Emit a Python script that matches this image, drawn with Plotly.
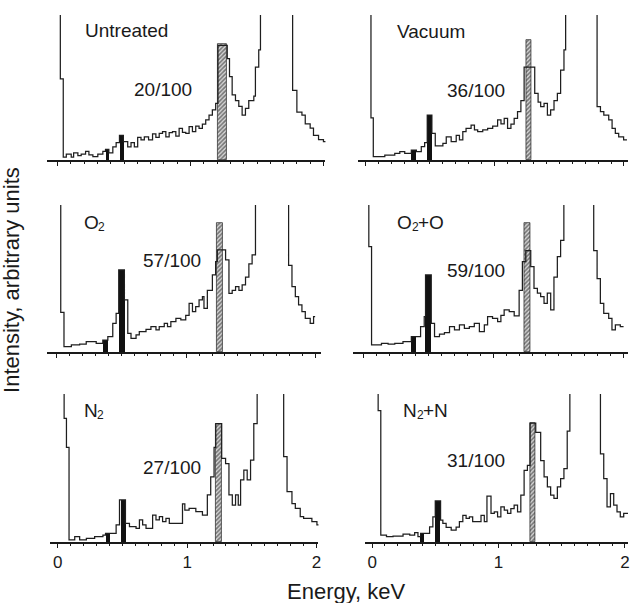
import plotly.graph_objects as go

FIG_W, FIG_H = 631, 603
FONT = "Liberation Sans, Arial, Helvetica, sans-serif"
INK = "#1a1a1a"

# EDX spectra as step functions: (left edge in keV, intensity in % of panel full scale).
# Values above 100 run off the top of the panel.
untreated = [
    (0.0, 130), (0.020, 56), (0.042, 2), (0.065, 4), (0.102, 2), (0.120, 5), (0.152, 3),
    (0.177, 4), (0.210, 6), (0.235, 3.5), (0.265, 2.3), (0.302, 4), (0.340, 6), (0.360, 7.4),
    (0.385, 5), (0.415, 9), (0.440, 12), (0.465, 17), (0.494, 12.6), (0.527, 9), (0.552, 12),
    (0.577, 9), (0.602, 15.6), (0.627, 13.8), (0.652, 16), (0.684, 13.8), (0.714, 18),
    (0.739, 15.6), (0.764, 18.4), (0.789, 19.5), (0.814, 16), (0.839, 18.9), (0.864, 19.5),
    (0.889, 16.5), (0.914, 21.8), (0.939, 19), (0.964, 18.4), (0.989, 23), (1.014, 19.5),
    (1.039, 23.4), (1.064, 21.8), (1.089, 24.8), (1.114, 27.6), (1.139, 31), (1.164, 34.5),
    (1.189, 39), (1.206, 79), (1.276, 70), (1.293, 57.5), (1.313, 45), (1.338, 41),
    (1.363, 37), (1.388, 31), (1.413, 35.6), (1.438, 41), (1.476, 44), (1.488, 64),
    (1.513, 76), (1.526, 130), (1.768, 48), (1.800, 33), (1.838, 31), (1.863, 25),
    (1.900, 22), (1.925, 17), (1.963, 14), (2.000, 12.6), (2.020, 12.6),
]
vacuum = [
    (0.0, 130), (0.044, 29), (0.062, 2.3), (0.151, 3.4), (0.228, 4.6), (0.267, 5.7),
    (0.305, 4.6), (0.356, 6.9), (0.395, 5.7), (0.433, 9.2), (0.459, 12), (0.479, 31),
    (0.515, 18.4), (0.541, 9.7), (0.600, 11.5), (0.626, 16), (0.664, 12.6), (0.703, 17),
    (0.728, 13.8), (0.754, 19.5), (0.779, 21.8), (0.818, 24), (0.844, 20.7), (0.869, 19.5),
    (0.908, 20.7), (0.946, 21.8), (0.985, 23.4), (1.023, 27.6), (1.049, 25), (1.074, 28.7),
    (1.100, 21.8), (1.126, 24.8), (1.151, 28.7), (1.177, 33.3), (1.203, 41), (1.228, 64),
    (1.310, 46), (1.336, 40), (1.356, 36.8), (1.382, 39), (1.408, 31), (1.433, 34.5),
    (1.459, 41), (1.485, 46), (1.510, 62), (1.536, 76), (1.549, 130), (1.792, 36.8),
    (1.818, 33.3), (1.844, 31), (1.882, 27.6), (1.908, 21.8), (1.933, 18.4), (1.959, 16),
    (1.997, 13.8), (2.023, 13.8),
]
o2 = [
    (0.0, 130), (0.031, 27), (0.056, 3.6), (0.113, 4.8), (0.177, 5.4), (0.228, 7),
    (0.305, 5.9), (0.356, 8), (0.395, 10.4), (0.433, 19.5), (0.459, 26.3), (0.479, 55.8),
    (0.523, 35.4), (0.549, 12.7), (0.574, 9.3), (0.613, 11.6), (0.638, 13.8), (0.690, 15.4),
    (0.728, 17.2), (0.767, 15), (0.792, 17.2), (0.831, 19.5), (0.856, 17.2), (0.882, 20.6),
    (0.921, 22.9), (0.959, 21.8), (0.997, 25), (1.023, 33), (1.049, 27.4), (1.074, 30.8),
    (1.100, 35.4), (1.126, 37.6), (1.138, 29.7), (1.164, 42), (1.203, 52.4), (1.228, 61.5),
    (1.241, 69.4), (1.305, 62.6), (1.331, 39.9), (1.356, 42), (1.382, 44.4), (1.408, 42),
    (1.433, 45.6), (1.459, 51), (1.485, 60), (1.510, 66), (1.536, 130), (1.792, 59),
    (1.818, 44.4), (1.844, 37.6), (1.869, 32), (1.895, 27.4), (1.921, 22.9), (1.959, 19.5),
    (1.985, 24), (1.997, 24),
]
o2_o = [
    (0.0, 130), (0.043, 71.7), (0.064, 4.8), (0.140, 5.9), (0.191, 5.4), (0.242, 5.9),
    (0.305, 7), (0.369, 10.4), (0.440, 17.2), (0.468, 24), (0.478, 52.4), (0.522, 19.5),
    (0.547, 10.4), (0.585, 12.2), (0.623, 13.2), (0.662, 17.2), (0.700, 15), (0.738, 18.4),
    (0.776, 16.1), (0.814, 17.2), (0.852, 19.5), (0.891, 13.8), (0.929, 18.4), (0.954, 24),
    (0.992, 22.9), (1.031, 20.6), (1.056, 25), (1.081, 28.6), (1.120, 27.4), (1.158, 24.5),
    (1.196, 42), (1.221, 61.5), (1.247, 69), (1.285, 58), (1.310, 43.3), (1.336, 40),
    (1.361, 37.6), (1.387, 33), (1.412, 40), (1.438, 28.6), (1.463, 51), (1.489, 64.9),
    (1.514, 76), (1.539, 130), (1.768, 69), (1.794, 50), (1.819, 33), (1.845, 26.3),
    (1.883, 22.9), (1.908, 15), (1.934, 18.4), (1.972, 17.2), (1.997, 17.2),
]
n2 = [
    (0.0, 130), (0.049, 83.6), (0.067, 64), (0.087, 1.4), (0.131, 3.6), (0.169, 1.4),
    (0.221, 2.5), (0.285, 3.6), (0.349, 4.7), (0.369, 5.9), (0.451, 11.5), (0.477, 28.4),
    (0.523, 12.6), (0.554, 10.4), (0.605, 9.2), (0.631, 14.9), (0.656, 11.5), (0.682, 9.2),
    (0.733, 18.2), (0.759, 14.9), (0.785, 17.1), (0.810, 13.7), (0.836, 16), (0.862, 12.6),
    (0.964, 25.7), (0.982, 21.6), (1.015, 22.7), (1.067, 20.5), (1.118, 18.2), (1.156, 31.8),
    (1.182, 44), (1.208, 64), (1.221, 80), (1.267, 56.5), (1.297, 53), (1.323, 31.8),
    (1.349, 25), (1.374, 31.8), (1.395, 25), (1.413, 42), (1.438, 48.6), (1.464, 42),
    (1.490, 55.4), (1.515, 80), (1.541, 130), (1.746, 57.7), (1.772, 34), (1.810, 26),
    (1.836, 22.7), (1.874, 17.1), (1.900, 16), (1.964, 13.7), (2.003, 11.5), (2.028, 11.5),
]
n2_n = [
    (0.0, 130), (0.047, 88.8), (0.068, 4.7), (0.113, 3.6), (0.165, 4), (0.244, 5.4),
    (0.297, 4.7), (0.336, 6.3), (0.362, 3.6), (0.383, 5.8), (0.454, 10.3), (0.480, 17),
    (0.499, 27.8), (0.541, 14.8), (0.559, 12.6), (0.585, 9.9), (0.625, 8), (0.664, 10),
    (0.690, 13.7), (0.717, 18), (0.743, 16), (0.769, 17), (0.795, 13.7), (0.861, 18),
    (0.887, 13.7), (0.908, 31), (0.940, 19.3), (0.966, 20.4), (0.992, 17), (1.018, 23.8),
    (1.045, 21.5), (1.071, 19.3), (1.097, 22.6), (1.123, 24.9), (1.150, 20.4), (1.176, 31.6),
    (1.202, 48.4), (1.228, 51.8), (1.249, 80.3), (1.294, 74), (1.333, 55), (1.360, 44),
    (1.386, 37.2), (1.412, 31.6), (1.438, 29.4), (1.465, 37.2), (1.491, 42.8), (1.517, 49.5),
    (1.543, 75), (1.564, 130), (1.806, 59.6), (1.832, 42.8), (1.858, 23.8), (1.885, 32.7),
    (1.911, 24.9), (1.937, 20.4), (1.963, 17), (1.990, 19.3), (2.024, 19.3),
]

# Integration windows: (low keV, high keV, peak height %)
untreated_black = [(0.360, 0.385, 7.4), (0.469, 0.494, 17)]
untreated_hatched = [(1.206, 1.276, 80)]
vacuum_black = [(0.356, 0.395, 6.9), (0.479, 0.515, 31)]
vacuum_hatched = [(1.246, 1.285, 83)]
o2_black = [(0.356, 0.395, 8), (0.479, 0.523, 55.8)]
o2_hatched = [(1.233, 1.285, 87.5)]
o2_o_black = [(0.369, 0.407, 10.4), (0.478, 0.522, 52.4)]
o2_o_hatched = [(1.239, 1.285, 88)]
n2_black = [(0.369, 0.405, 5.9), (0.485, 0.523, 28.4)]
n2_hatched = [(1.221, 1.267, 80)]
n2_n_black = [(0.383, 0.415, 5.8), (0.501, 0.541, 27.8)]
n2_n_hatched = [(1.249, 1.294, 80.3)]

# Panel names as (text, is_subscript) runs
treatments = [
    [("Untreated", False)],
    [("Vacuum", False)],
    [("O", False), ("2", True)],
    [("O", False), ("2", True), ("+O", False)],
    [("N", False), ("2", True)],
    [("N", False), ("2", True), ("+N", False)],
]
ratios = ["20/100", "36/100", "57/100", "59/100", "27/100", "31/100"]
spectra = [untreated, vacuum, o2, o2_o, n2, n2_n]
black_windows = [untreated_black, vacuum_black, o2_black, o2_o_black, n2_black, n2_n_black]
hatched_windows = [untreated_hatched, vacuum_hatched, o2_hatched, o2_o_hatched, n2_hatched, n2_n_hatched]
energy_ticks = [0, 1, 2]

# Panel frames in pixels: (x left, x right, y top, y baseline), keV span across the frame,
# and label anchors (left edge x, vertical centre y) for the name and the ratio.
frames = [
    (47, 327, 15, 160, (-0.082, 2.015), (84, 31), (133, 90)),
    (360, 631, 15, 160, (-0.054, 2.031), (398, 32), (447, 91)),
    (47, 323, 205, 352, (-0.077, 2.046), (83, 222), (142, 260)),
    (355, 631, 205, 352, (-0.076, 2.031), (398, 222), (447, 270)),
    (50, 320, 394, 542, (-0.062, 2.015), (83, 410), (142, 467)),
    (367, 631, 394, 542, (-0.055, 2.024), (404, 410), (447, 460)),
]

LABEL_SIZE, SUB_SIZE = 19, 12
# Arial/Liberation Sans advance widths (em) for the glyphs used in the panel names
ADVANCE = {"O": 0.778, "N": 0.722, "+": 0.584, "2": 0.556}


def text_width(s, size):
    return sum(ADVANCE.get(ch, 0.556) for ch in s) * size


def paper(px, py):
    return px / FIG_W, 1 - py / FIG_H


fig = go.Figure()
layout_axes = {}
annotations = []

for i, (runs, ratio, spec, blk, hat, frame) in enumerate(
        zip(treatments, ratios, spectra, black_windows, hatched_windows, frames), start=1):
    x0, x1, ytop, ybase, xr, name_pos, ratio_pos = frame
    xa = "x" if i == 1 else f"x{i}"
    ya = "y" if i == 1 else f"y{i}"

    fig.add_trace(go.Bar(
        x=[(lo + hi) / 2 for lo, hi, _ in blk], y=[h for _, _, h in blk],
        width=[hi - lo for lo, hi, _ in blk],
        marker=dict(color="#111", line=dict(width=0)),
        xaxis=xa, yaxis=ya, hoverinfo="skip"))
    fig.add_trace(go.Bar(
        x=[(lo + hi) / 2 for lo, hi, _ in hat], y=[h for _, _, h in hat],
        width=[hi - lo for lo, hi, _ in hat],
        marker=dict(color="white",
                    pattern=dict(shape="/", fgcolor="#151515", bgcolor="#d8d8d8", size=3, solidity=0.55),
                    line=dict(color="#222", width=0.7)),
        xaxis=xa, yaxis=ya, hoverinfo="skip"))
    fig.add_trace(go.Scatter(
        x=[e for e, _ in spec], y=[c for _, c in spec], mode="lines",
        line=dict(shape="hv", color="#1e1e1e", width=1.25),
        xaxis=xa, yaxis=ya, hoverinfo="skip"))

    bottom = i >= 5
    layout_axes["xaxis" if i == 1 else f"xaxis{i}"] = dict(
        domain=[x0 / FIG_W, x1 / FIG_W], range=list(xr), anchor=ya,
        showline=True, linecolor=INK, linewidth=1.6, showgrid=False, zeroline=False,
        ticks="outside", ticklen=4, tickwidth=1.2, tickcolor=INK,
        tickmode="array", tickvals=energy_ticks, ticktext=[str(t) for t in energy_ticks],
        showticklabels=bottom, tickfont=dict(family=FONT, size=17, color=INK),
        minor=dict(tickmode="linear", tick0=0, dtick=0.1, ticks="outside", ticklen=2.5,
                   tickwidth=1, tickcolor=INK, showgrid=False),
        fixedrange=True)
    layout_axes["yaxis" if i == 1 else f"yaxis{i}"] = dict(
        domain=[1 - ybase / FIG_H, 1 - ytop / FIG_H], range=[0, 100], anchor=xa,
        visible=False, fixedrange=True)

    # panel name, laid out run by run so subscripts sit low and small
    cx, cy = name_pos
    for text, is_sub in runs:
        size = SUB_SIZE if is_sub else LABEL_SIZE
        ax, ay = paper(cx, cy + (5 if is_sub else 0))
        annotations.append(dict(
            text=text, x=ax, y=ay, xref="paper", yref="paper",
            xanchor="left", yanchor="middle", showarrow=False, borderpad=0,
            font=dict(family=FONT, size=size, color=INK)))
        cx += text_width(text, size)

    rx, ry = paper(*ratio_pos)
    annotations.append(dict(
        text=ratio, x=rx, y=ry, xref="paper", yref="paper",
        xanchor="left", yanchor="middle", showarrow=False,
        font=dict(family=FONT, size=LABEL_SIZE, color=INK)))

ex, ey = paper(348, 591)
annotations.append(dict(
    text="Energy, keV", x=ex, y=ey, xref="paper", yref="paper",
    xanchor="center", yanchor="middle", showarrow=False,
    font=dict(family=FONT, size=22, color=INK)))
ix, iy = paper(11, 280)
annotations.append(dict(
    text="Intensity, arbitrary units", x=ix, y=iy, xref="paper",
    yref="paper", xanchor="center", yanchor="middle", textangle=-90, showarrow=False,
    font=dict(family=FONT, size=22, color=INK)))

fig.update_layout(
    width=FIG_W, height=FIG_H, margin=dict(l=0, r=0, t=0, b=0),
    paper_bgcolor="white", plot_bgcolor="white", showlegend=False,
    barmode="overlay", bargap=0, annotations=annotations, **layout_axes)

fig.write_html("out.html")
